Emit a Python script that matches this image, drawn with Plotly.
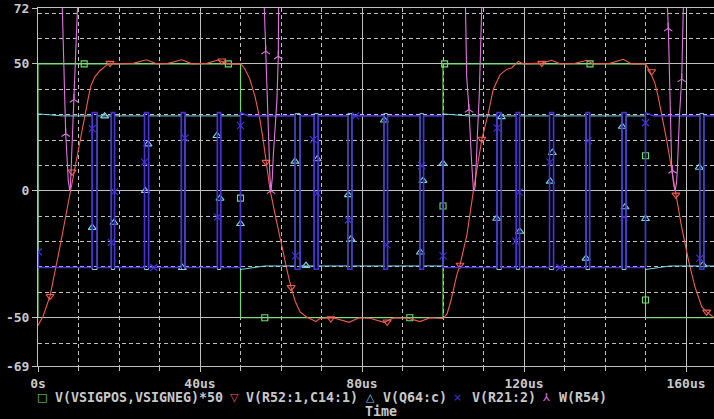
import plotly.graph_objects as go

# ---------------- data ----------------
X_END = 167.5  # simulation shown up to here (us)

# V(VSIGPOS,VSIGNEG)*50  (green square wave)
GREEN_T = [0, 0, 50, 50, 100, 100, 150, 150, X_END]
GREEN_V = [-50, 50, 50, -50, -50, 50, 50, -50, -50]
GREEN_MK_T = [11.4, 47.0, 50.0, 56.0, 91.8, 100.0, 100.4, 136.3, 150.0, 150.0]
GREEN_MK_V = [50, 50, -2.9, -50, -50, -6, 50, 50, 13.8, -43]

# V(R52:1,C14:1)  (red filtered wave)
RED_T = [0, 1.23, 2.96, 4.2, 5.43, 6.67, 7.9, 9.14, 10.37, 11.6, 12.47, 13.09, 14.07, 15.31,
         16.54, 17.78, 19.0, 23.5, 26.8, 29.3, 32.1, 35.5, 38.0, 41.7, 44.4, 47.0, 50.1,
         51.1, 52.3, 53.6, 54.8, 55.6, 56.3, 57.3, 58.9, 60.6, 61.8, 62.5, 63.5, 64.7,
         66.3, 68.0, 68.6, 69.6, 72.1, 73.3, 76.8, 79.3, 82.0, 85.4, 87.9, 91.4, 94.3,
         96.8, 100.0, 101.0, 102.0, 103.4, 104.2, 105.9, 107.5, 109.6, 111.2, 112.4,
         114.1, 115.7, 117.0, 118.6, 119.8, 124.4, 126.8, 128.9, 132.6, 135.5, 137.1,
         141.2, 144.5, 146.6, 150.0, 151.1, 152.3, 153.1, 153.6, 154.8, 155.2, 156.9,
         157.5, 158.9, 160.6, 162.2, 163.9, 165.1, 166.7, 167.5]
RED_V = [-53, -49.5, -41.5, -32, -22, -11.5, -1, 9, 19, 29, 37, 41.5, 45, 47.3,
         49, 50.3, 50, 50.2, 51.6, 50, 50.2, 51.6, 50, 50.2, 51.5, 50, 50,
         48, 44, 37, 28, 20, 11.3, 0.4, -12, -25, -33.5, -38, -43.5, -47.7,
         -49.7, -51, -51.5, -50.3, -50, -50.2, -51.8, -50, -50.2, -51.8, -50, -50.2, -51.5,
         -50, -50.3, -48.5, -43, -33.2, -29.2, -17.4, 0, 20.4, 30.7, 39.9,
         45.8, 47.8, 48.5, 51, 50, 50.3, 51.4, 50, 50.2, 51.4, 50,
         50.2, 51.8, 50, 50, 47, 42.5, 37.3, 33.3, 22.8, 20.2, 4.3,
         -1.6, -14.1, -27.3, -37.8, -45.7, -47.7, -49.7, -50]
RED_MK_T = [2.96, 8.4, 17.78, 45.4, 56.3, 62.5, 72.3, 86.2, 104.2, 109.6, 124.4, 151.5, 157.5, 165.1]
RED_MK_V = [-41.5, 7.5, 50.3, 51.2, 11.3, -38.0, -50.3, -51.6, -29.2, 20.4, 50.3, 47, -1.6, -47.7]

# switching signals V(Q64:c) (cyan) and V(R21:2) (blue): half-cycle edges
HALF_START = [0, 50, 100, 150]
PULSE_ON = [[13.4, 18.1, 26.3, 35.4, 44.3],
            [63.5, 68.2, 76.5, 85.4, 94.3],
            [113.3, 118.1, 126.3, 135.3, 144.2],
            [163.4]]
PULSE_OFF = [[14.6, 18.9, 27.3, 36.3, 45.1],
             [64.7, 69.2, 77.5, 86.3, 95.2],
             [114.4, 118.9, 127.3, 136.2, 145.2],
             [164.4]]
CYAN_FIRST = -30.0
CYAN_START = [30.3, -31.0, 30.3, -31.0]
CYAN_BASE = [29.5, -29.6, 29.5, -29.6]
CYAN_PEAK = [-31.0, 30.4, -31.0, 30.4]
BLUE_FIRST = -24.0
BLUE_START = [-30.2, 30.8, -30.2, 30.8]
BLUE_BASE = [-30.2, 29.5, -30.2, 29.5]
BLUE_PEAK = [30.8, -30.9, 30.8, -30.9]

CYAN_MK_T = [16.47, 13.4, 18.77, 27.16, 26.49, 35.63, 44.2, 44.94, 50.0,
             63.46, 68.96, 76.62, 77.28, 66.17, 85.5, 95.06, 94.4, 100.0, 113.26, 114.4,
             118.94, 126.99, 126.49, 135.31, 144.27, 144.94, 150.0, 163.28, 164.2]
CYAN_MK_V = [29.4, -14.5, -12.5, 18.4, 0, -30.3, 21.7, -3, -13,
             11.6, 12.5, -1.6, -19, -29.5, 27.8, 4, -24.2, 10.8, -10.9, 29.1,
             -16, 15, 3.7, -26.6, 25.3, -6.4, -11, 9.2, -29.2]

BLUE_MK_T = [0.1, 13.4, 18.1, 18.9, 26.3, 28.57, 36.3, 44.3, 50.0,
             63.6, 67.98, 68.96, 76.62, 78.44, 86.1, 94.74, 100.0,
             113.4, 117.95, 118.8, 126.42, 128.81, 135.88, 144.69, 150.0, 163.4]
BLUE_MK_V = [-24, 24.5, -20.3, -0.3, 11.3, -30.2, 20.8, -10.4, 25.7,
             -25.6, 20.2, -0.9, -11.5, 29.5, -21.3, 9.9, -25.6,
             24.8, -19.8, -0.5, 11.3, -30.2, 19.8, -10.4, 26.8, -26.6]

# W(R54) (magenta power spikes, off-scale except near zero crossings)
MAG_T = [0, 5.0, 6.0, 6.49, 6.84, 7.48, 7.7, 7.85, 8.0, 8.72, 9.26, 9.75, 11.0,
         55.0, 55.88, 56.22, 56.62, 57.28, 57.53, 57.85, 58.1, 59.0, 59.33, 59.58, 60.6,
         104.6, 105.56, 105.85, 106.42, 107.04, 107.48, 107.73, 107.98, 108.47, 108.96, 109.56, 110.6,
         154.5, 155.43, 155.68, 156.05, 156.47, 156.91, 157.28, 157.65, 157.85, 158.4, 158.94, 159.33, 160.4,
         X_END]
MAG_V = [400, 400, 72, 36, 22.5, 4, 0.5, 0, 1.5, 31, 50, 72, 400,
         400, 72, 55, 36, 5, 0, 5, 14, 36, 53, 72, 400,
         400, 72, 45, 32, 12, 1, 0, 2, 21, 38, 72, 400,
         400, 72, 62, 40, 9.5, 3, 0, 3, 8, 30, 44, 72, 400,
         400]
MAG_MK_T = [6.84, 8.89, 56.22, 57.53, 59.33, 106.42, 155.6, 156.7, 158.94]
MAG_MK_V = [22.5, 36, 55, 0, 53, 32, 64, 8, 44]

X_TICKS = [0, 40, 80, 120, 160]
X_TICKTEXT = ["0s", "40us", "80us", "120us", "160us"]
Y_TICKS = [-69, -50, 0, 50, 72]
Y_TICKTEXT = ["-69", "-50", "0", "50", "72"]

LEGEND_NAMES = ["V(VSIGPOS,VSIGNEG)*50", "V(R52:1,C14:1)", "V(Q64:c)", "V(R21:2)", "W(R54)"]
LEGEND_GLYPHS = ["\u25a1", "\u25bd", "\u25b3", "\u00d7", "\u2144"]

# ---------------- style ----------------
W, H = 714, 419
ML, MR, MT, MB = 38, 0, 8, 53
X_RANGE = [0, 676 / 4.05]
Y_RANGE = [-69, 72]

GREEN = "#6ee06e"
RED = "#f25a50"
CYAN = "#7cd4e6"
BLUE = "#4632d8"
MAGENTA = "#e274e2"
GRID = "#c0c0c0"
TXT = "#c8c8c8"
FONT = "DejaVu Sans Mono"


def square_series(first_v, start, base, peak, settle, lag):
    t, v = [0.0], [first_v]
    for k, h0 in enumerate(HALF_START):
        h1 = HALF_START[k + 1] if k + 1 < len(HALF_START) else X_END
        t += [h0, h0 + settle]
        v += [start[k], base[k]]
        for on, off in zip(PULSE_ON[k], PULSE_OFF[k]):
            t += [on + lag, on + lag, off + lag, off + lag]
            v += [base[k], peak[k], peak[k], base[k]]
        t.append(h1)
        v.append(base[k])
    return t, v


cyan_t, cyan_v = square_series(CYAN_FIRST, CYAN_START, CYAN_BASE, CYAN_PEAK, 6.0, 0.0)
blue_t, blue_v = square_series(BLUE_FIRST, BLUE_START, BLUE_BASE, BLUE_PEAK, 2.0, 0.0)

fig = go.Figure()


def add_series(t, v, mt, mv, color, symbol, msize, lw=1.1):
    fig.add_trace(go.Scatter(x=t, y=v, mode="lines", line=dict(color=color, width=lw),
                             hoverinfo="skip", showlegend=False))
    fig.add_trace(go.Scatter(x=mt, y=mv, mode="markers",
                             marker=dict(symbol=symbol, size=msize, color=color,
                                         line=dict(color=color, width=1.1)),
                             hoverinfo="skip", showlegend=False))


add_series(GREEN_T, GREEN_V, GREEN_MK_T, GREEN_MK_V, GREEN, "square-open", 6)
add_series(RED_T, RED_V, RED_MK_T, RED_MK_V, RED, "triangle-down-open", 7)
add_series(cyan_t, cyan_v, CYAN_MK_T, CYAN_MK_V, CYAN, "triangle-up-open", 7, 1.0)
add_series(blue_t, blue_v, BLUE_MK_T, BLUE_MK_V, BLUE, "x-thin-open", 7, 1.6)
add_series(MAG_T, MAG_V, MAG_MK_T, MAG_MK_V, MAGENTA, "y-up-open", 7)

tickfont = dict(family=FONT, size=13, color=TXT, weight="bold")

fig.update_xaxes(range=X_RANGE, tickvals=X_TICKS, ticktext=X_TICKTEXT, automargin=False,
                 ticks="outside", ticklen=5, tickcolor=GRID, tickwidth=1,
                 showline=True, linecolor=GRID, linewidth=1, mirror=True,
                 showgrid=True, gridcolor=GRID, gridwidth=1, zeroline=False,
                 tickfont=tickfont,
                 minor=dict(tick0=0, dtick=10, showgrid=True, gridcolor=GRID, gridwidth=1,
                            griddash="4px,3px", ticks="outside", ticklen=4, tickcolor=GRID))
fig.update_yaxes(range=Y_RANGE, tickvals=Y_TICKS, ticktext=Y_TICKTEXT, automargin=False,
                 ticks="outside", ticklen=5, tickcolor=GRID, tickwidth=1,
                 showline=True, linecolor=GRID, linewidth=1, mirror=False,
                 showgrid=True, gridcolor=GRID, gridwidth=1, zeroline=False,
                 tickfont=tickfont,
                 minor=dict(tick0=0, dtick=10, showgrid=True, gridcolor=GRID, gridwidth=1,
                            griddash="4px,3px", ticks=""))

plot_w = W - ML - MR
plot_h = H - MT - MB


def px_x(px):
    return (px - ML) / plot_w


def px_y(py):
    return (H - MB - py) / plot_h


annots = []
sym_px = [42, 234, 370, 458, 546]
txt_px = [53, 244, 381, 470, 557]
colors = [GREEN, RED, CYAN, BLUE, MAGENTA]
for g, c, sx in zip(LEGEND_GLYPHS, colors, sym_px):
    annots.append(dict(x=px_x(sx), y=px_y(397), xref="paper", yref="paper", text=g,
                       showarrow=False, xanchor="center", yanchor="middle",
                       font=dict(family="DejaVu Sans", size=11, color=c)))
for name, tx in zip(LEGEND_NAMES, txt_px):
    annots.append(dict(x=px_x(tx), y=px_y(397), xref="paper", yref="paper", text=name,
                       showarrow=False, xanchor="left", yanchor="middle",
                       font=dict(family=FONT, size=13.3, color=TXT, weight="bold")))
annots.append(dict(x=px_x(381), y=px_y(411), xref="paper", yref="paper", text="Time",
                   showarrow=False, xanchor="center", yanchor="middle",
                   font=dict(family=FONT, size=13.3, color=TXT, weight="bold")))

fig.update_layout(width=W, height=H, margin=dict(l=ML, r=MR, t=MT, b=MB, pad=0),
                  paper_bgcolor="black", plot_bgcolor="black",
                  showlegend=False, annotations=annots)

fig.write_html("out.html", config={"displayModeBar": False},
               post_script="document.body.style.margin='0';document.body.style.background='black';")
